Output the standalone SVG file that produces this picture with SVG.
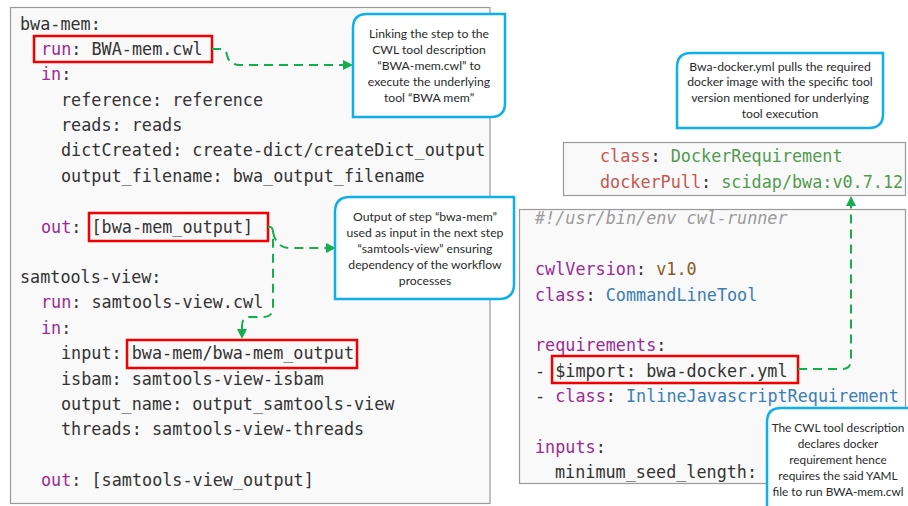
<svg xmlns="http://www.w3.org/2000/svg" width="908" height="506" viewBox="0 0 908 506">
<defs>
<style>
.panel{fill:#f9f9f9;stroke:#9a9a9a;stroke-width:1.2}
.code{font-family:"DejaVu Sans Mono","Liberation Mono",monospace;font-size:16.8px;fill:#333}
.kw{fill:#9a2a96}
.rk{fill:#c4574e}
.gv{fill:#52994f}
.num{fill:#8b5a22}
.bl{fill:#3b7db5}
.cm{fill:#9a9a9a;font-style:italic}
.hl{fill:none;stroke:#f00000;stroke-width:2.5}
.callout{fill:#fff;stroke:#0eb0ec;stroke-width:2.5}
.ct{font-family:Lato,"Open Sans",sans-serif;font-size:12.2px;fill:#2a2a2a;text-anchor:middle}
.conn{fill:none;stroke:#16ad50;stroke-width:2;stroke-dasharray:9 6}
</style>
<marker id="ah" viewBox="0 0 10 10" refX="9" refY="5" markerWidth="10" markerHeight="10" markerUnits="userSpaceOnUse" orient="auto">
<path d="M0,0 L10,5 L0,10 z" fill="#16ad50"/>
</marker>
</defs>

<g id="workflow-panel">
<rect class="panel" x="10.5" y="7.5" width="479.5" height="496"/>
<text class="code" x="20" y="30">bwa-mem:</text>
<text class="code" x="41" y="55"><tspan class="kw">run</tspan>: BWA-mem.cwl</text>
<text class="code" x="41" y="80"><tspan class="kw">in</tspan>:</text>
<text class="code" x="61" y="106">reference: reference</text>
<text class="code" x="61" y="131">reads: reads</text>
<text class="code" x="61" y="156">dictCreated: create-dict/createDict_output</text>
<text class="code" x="61" y="182">output_filename: bwa_output_filename</text>
<text class="code" x="41" y="233"><tspan class="kw">out</tspan>: [bwa-mem_output]</text>
<text class="code" x="20" y="283">samtools-view:</text>
<text class="code" x="41" y="308"><tspan class="kw">run</tspan>: samtools-view.cwl</text>
<text class="code" x="41" y="334"><tspan class="kw">in</tspan>:</text>
<text class="code" x="61" y="359">input: bwa-mem/bwa-mem_output</text>
<text class="code" x="61" y="385">isbam: samtools-view-isbam</text>
<text class="code" x="61" y="410">output_name: output_samtools-view</text>
<text class="code" x="61" y="435">threads: samtools-view-threads</text>
<text class="code" x="41" y="486"><tspan class="kw">out</tspan>: [samtools-view_output]</text>
<rect class="hl" x="34" y="36" width="178" height="26"/>
<rect class="hl" x="89" y="213" width="179" height="28"/>
<rect class="hl" x="127" y="340" width="230" height="28"/>
</g>

<g id="docker-panel">
<rect class="panel" x="563.5" y="142.5" width="342" height="53"/>
<text class="code" x="600" y="162"><tspan class="rk">class</tspan>: <tspan class="gv">DockerRequirement</tspan></text>
<text class="code" x="600" y="188"><tspan class="rk">dockerPull</tspan>: <tspan class="gv">scidap/bwa:v0.7.12</tspan></text>
</g>

<g id="tool-panel">
<rect class="panel" x="519.5" y="209.5" width="386" height="274"/>
<text class="code cm" x="535" y="224">#!/usr/bin/env cwl-runner</text>
<text class="code" x="535" y="275"><tspan class="kw">cwlVersion</tspan>: <tspan class="num">v1.0</tspan></text>
<text class="code" x="535" y="301"><tspan class="kw">class</tspan>: <tspan class="bl">CommandLineTool</tspan></text>
<text class="code" x="535" y="351"><tspan class="kw">requirements</tspan>:</text>
<text class="code" x="535" y="377">- $import: bwa-docker.yml</text>
<text class="code" x="535" y="402">- <tspan class="kw">class</tspan>: <tspan class="bl">InlineJavascriptRequirement</tspan></text>
<text class="code" x="535" y="453"><tspan class="kw">inputs</tspan>:</text>
<text class="code" x="555" y="478">minimum_seed_length:</text>
<rect class="hl" x="552" y="356" width="246" height="27"/>
</g>

<g id="connectors">
<path class="conn" marker-end="url(#ah)" d="M212,49 L220,49 Q226,49 227,55 Q229,65 240,65 L352,65"/>
<path class="conn" d="M268,227 L270,227 Q273,227 273,233 L273,308 Q273,317 262,317 L250,317 Q242,317 242,326"/>
<path class="conn" stroke-dasharray="none" marker-end="url(#ah)" d="M242,326 L242,338"/>
<path class="conn" marker-end="url(#ah)" d="M273,232 Q276,248 290,248 L335,248"/>
<path class="conn" marker-end="url(#ah)" d="M798,369 L842,369 Q851,369 851,360 L851,197"/>
</g>

<g id="callout-linking">
<path class="callout" d="M367,14 L505,14 L505,103 Q505,117 491,117 L353,117 L353,28 Q353,14 367,14 Z"/>
<text class="ct" x="429" y="38">Linking the step to the</text>
<text class="ct" x="429" y="54">CWL tool description</text>
<text class="ct" x="429" y="70">“BWA-mem.cwl” to</text>
<text class="ct" x="429" y="86">execute the underlying</text>
<text class="ct" x="429" y="102">tool “BWA mem”</text>
</g>

<g id="callout-output">
<path class="callout" d="M350,197 L514,197 L514,284 Q514,299 499,299 L335,299 L335,212 Q335,197 350,197 Z"/>
<text class="ct" x="425" y="221">Output of step “bwa-mem”</text>
<text class="ct" x="425" y="237">used as input in the next step</text>
<text class="ct" x="425" y="253">“samtools-view” ensuring</text>
<text class="ct" x="425" y="269">dependency of the workflow</text>
<text class="ct" x="425" y="285">processes</text>
</g>

<g id="callout-docker">
<path class="callout" d="M691,53 L883,53 L883,114 Q883,128 869,128 L677,128 L677,67 Q677,53 691,53 Z"/>
<text class="ct" x="780" y="71">Bwa-docker.yml pulls the required</text>
<text class="ct" x="780" y="86">docker image with the specific tool</text>
<text class="ct" x="780" y="102">version mentioned for underlying</text>
<text class="ct" x="780" y="118">tool execution</text>
</g>

<g id="callout-requirement">
<path class="callout" d="M781,408 L930,408 L930,530 L767,530 L767,422 Q767,408 781,408 Z"/>
<text class="ct" x="838" y="432" style="font-size:11.8px">The CWL tool description</text>
<text class="ct" x="838" y="448" style="font-size:11.8px">declares docker</text>
<text class="ct" x="838" y="464" style="font-size:11.8px">requirement hence</text>
<text class="ct" x="838" y="480" style="font-size:11.8px">requires the said YAML</text>
<text class="ct" x="838" y="496" style="font-size:11.8px">file to run BWA-mem.cwl</text>
</g>
</svg>
